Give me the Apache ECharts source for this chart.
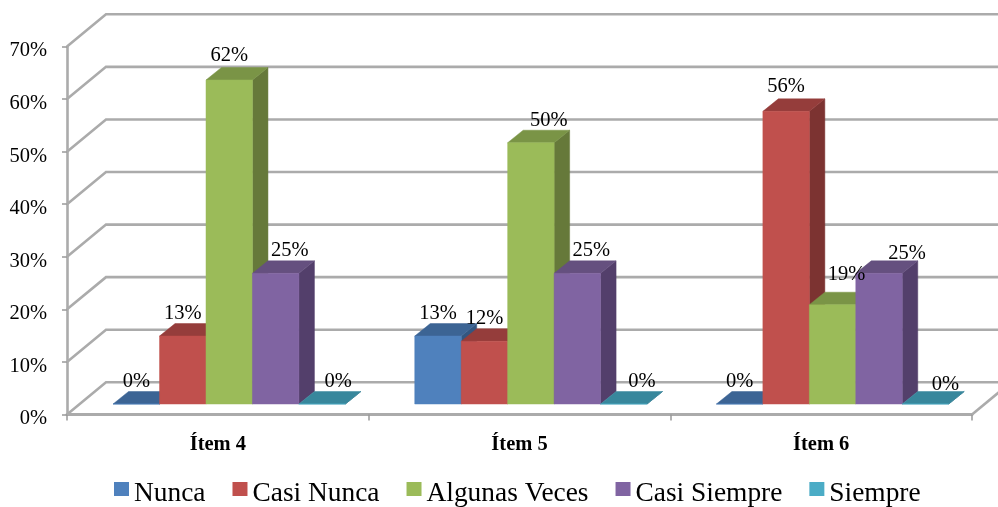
<!DOCTYPE html>
<html><head><meta charset="utf-8">
<style>html,body{margin:0;padding:0;background:#fff}#c{width:998px;height:507px}</style>
<script src="https://cdn.jsdelivr.net/npm/echarts@6/dist/echarts.min.js"></script>
</head><body><div id="c"></div>
<script>
const categories = ['Ítem 4', 'Ítem 5', 'Ítem 6'];
const seriesNames = ['Nunca', 'Casi Nunca', 'Algunas Veces', 'Casi Siempre', 'Siempre'];
const nunca = [0, 13, 0];
const casiNunca = [13, 12, 56];
const algunasVeces = [62, 50, 19];
const casiSiempre = [25, 25, 25];
const siempre = [0, 0, 0];
const wallTicks = [0, 10, 20, 30, 40, 50, 60, 70];

const values = [nunca, casiNunca, algunasVeces, casiSiempre, siempre];
const front = ['#4F81BD', '#C0504D', '#9BBB59', '#8064A2', '#4BACC6'];
const topFace = ['#3C6494', '#953D3B', '#7A9446', '#65507F', '#38879C'];
const sideFace = ['#335680', '#7C3331', '#66793A', '#533F6B', '#2F7386'];
const FONT = '"Liberation Serif","Times New Roman",serif';
// 3-D projection constants (pixels)
const WALL_DX = 39, WALL_DY = -32.2, BAR_DX = 15.5, BAR_DY = -12.5, SHIFT_X = 11.4, SHIFT_Y = -10.5;
const BAR_RATIO = 0.154, BAR_SCALE = 0.994;
// manual placement of the data labels, as in the source chart
const labelNudgeX = [[0,0,0],[0,0,0],[0,18,14],[14,14,28],[16,18,20]];
const labelNudgeY = [[0,0,0],[0,0,-2],[-2,0,-8],[0,0,3],[0,0,3]];

function wallItem(params, api) {
  const cs = params.coordSys;
  const y = api.coord([0, api.value(0)])[1];
  return {
    type: 'polyline', silent: true,
    shape: { points: [[cs.x, y], [cs.x + WALL_DX, y + WALL_DY], [cs.x + cs.width + WALL_DX, y + WALL_DY]] },
    style: { stroke: '#ABABAB', lineWidth: 2.6, fill: 'none' }
  };
}
function floorEdge(params, api) {
  const cs = params.coordSys;
  const y = api.coord([0, 0])[1];
  return {
    type: 'line', silent: true,
    shape: { x1: cs.x + cs.width, y1: y, x2: cs.x + cs.width + WALL_DX, y2: y + WALL_DY },
    style: { stroke: '#ABABAB', lineWidth: 2.6 }
  };
}
function barRenderer(s) {
  return function (params, api) {
    const i = api.value(0), v = api.value(1);
    const c0 = api.coord([i, 0]), c1 = api.coord([i, v]);
    const bw = api.size([1, 0])[0] * BAR_RATIO;
    const xl = c0[0] + SHIFT_X + (s - 2.5) * bw, xr = xl + bw;
    const yb = c0[1] + SHIFT_Y, yt = yb + (c1[1] - c0[1]) * BAR_SCALE;
    const poly = (pts, fill, z2) => ({ type: 'polygon', z2, shape: { points: pts }, style: { fill, stroke: fill, lineWidth: 0.5 } });
    return {
      type: 'group',
      children: [
        poly([[xr, yb], [xr + BAR_DX, yb + BAR_DY], [xr + BAR_DX, yt + BAR_DY], [xr, yt]], sideFace[s], s * 3),
        poly([[xl, yt], [xr, yt], [xr + BAR_DX, yt + BAR_DY], [xl + BAR_DX, yt + BAR_DY]], topFace[s], s * 3 + 1),
        poly([[xl, yb], [xr, yb], [xr, yt], [xl, yt]], front[s], s * 3 + 2),
        { type: 'text', z2: 100, silent: true, style: {
            text: v + '%', x: (xl + xr) / 2 + labelNudgeX[s][i], y: yt + BAR_DY - 10 + labelNudgeY[s][i],
            align: 'center', verticalAlign: 'middle', font: '20.5px ' + FONT, fill: '#000' } }
      ]
    };
  };
}

const chart = echarts.init(document.getElementById('c'), null, { renderer: 'canvas' });
chart.setOption({
  animation: false,
  backgroundColor: '#fff',
  grid: { left: 67, right: 26, top: 46.5, bottom: 92.5 },
  legend: {
    show: true, left: 114, top: 480.5, padding: 0, icon: 'rect', itemWidth: 15, itemHeight: 14, itemGap: 27,
    data: seriesNames, selectedMode: false,
    formatter: '{t|{name}}',
    textStyle: { fontFamily: FONT, fontSize: 27.4, color: '#000',
      rich: { t: { fontFamily: FONT, fontSize: 27.4, color: '#000', padding: [10, 0, 0, 0] } } }
  },
  xAxis: {
    type: 'category', data: categories,
    axisLine: { lineStyle: { color: '#ABABAB', width: 3 } },
    axisTick: { show: true, length: 6, lineStyle: { color: '#999', width: 1.5 } },
    axisLabel: { fontFamily: FONT, fontSize: 20.5, fontWeight: 'bold', color: '#000', margin: 20 }
  },
  yAxis: {
    type: 'value', min: 0, max: 70, interval: 10,
    splitLine: { show: false },
    axisLine: { show: true, lineStyle: { color: '#ABABAB', width: 2.6 } },
    axisTick: { show: true, length: 5, lineStyle: { color: '#999', width: 1.5 } },
    axisLabel: { formatter: '{value}%', fontFamily: FONT, fontSize: 20.5, color: '#000', margin: 20, verticalAlign: 'top', lineHeight: 9 }
  },
  series: [
    { type: 'custom', name: 'wall', z: 1, silent: true, data: wallTicks.map(t => [t]), encode: { y: 0 }, renderItem: wallItem },
    { type: 'custom', name: 'edge', z: 1, silent: true, data: [[0]], encode: { y: 0 }, renderItem: floorEdge }
  ].concat(seriesNames.map((name, s) => ({
    type: 'custom', name, z: 3, itemStyle: { color: front[s] },
    data: values[s].map((v, i) => [i, v]), encode: { x: 0, y: 1 },
    renderItem: barRenderer(s)
  })))
});
</script></body></html>
